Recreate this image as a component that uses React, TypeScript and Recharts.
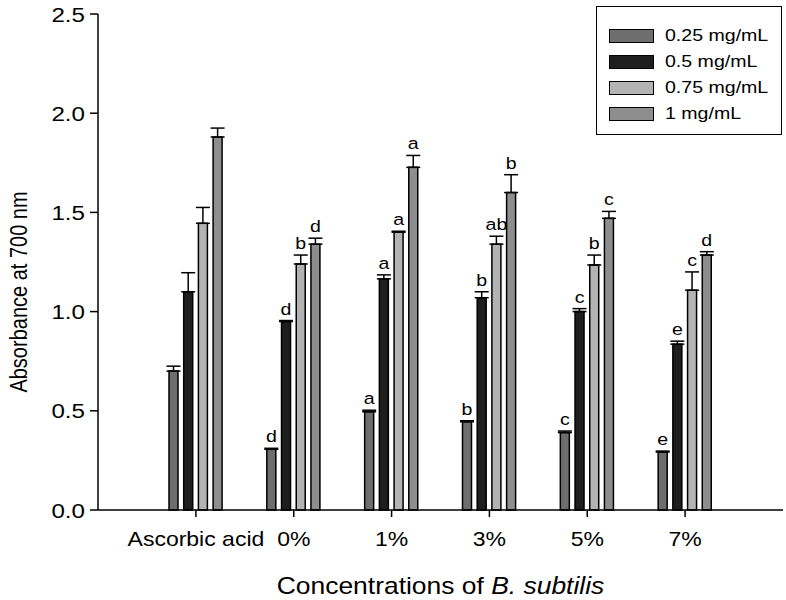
import React from "react";
import {
  BarChart,
  Bar,
  XAxis,
  YAxis,
  Legend,
  ErrorBar,
  LabelList,
} from "recharts";

const categories = ["Ascorbic acid", "0%", "1%", "3%", "5%", "7%"];

const s025 = [0.7, 0.306, 0.495, 0.445, 0.39, 0.292];
const s05 = [1.1, 0.95, 1.165, 1.07, 1.0, 0.836];
const s075 = [1.445, 1.24, 1.4, 1.34, 1.235, 1.108];
const s1 = [1.88, 1.34, 1.727, 1.6, 1.47, 1.285];

const e025 = [0.025, 0.005, 0.008, 0.005, 0.008, 0.005];
const e05 = [0.096, 0.005, 0.02, 0.03, 0.015, 0.015];
const e075 = [0.08, 0.045, 0.005, 0.04, 0.05, 0.092];
const e1 = [0.045, 0.03, 0.06, 0.09, 0.035, 0.017];

const l025 = ["", "d", "a", "b", "c", "e"];
const l05 = ["", "d", "a", "b", "c", "e"];
const l075 = ["", "b", "a", "ab", "b", "c"];
const l1 = ["", "d", "a", "b", "c", "d"];

const yTicks = [0, 0.5, 1.0, 1.5, 2.0, 2.5];

const seriesNames = ["0.25 mg/mL", "0.5 mg/mL", "0.75 mg/mL", "1 mg/mL"];
const seriesColors = ["#6e6e6e", "#1e1e1e", "#b3b3b3", "#8e8e8e"];

const FONT = "'Liberation Sans', Arial, Helvetica, sans-serif";
// the source figure's lettering is a bit wider than plain Arial
const SX = 1.15;

const data = categories.map((name, i) => ({
  name,
  v0: s025[i],
  v1: s05[i],
  v2: s075[i],
  v3: s1[i],
  err0: [0, e025[i]],
  err1: [0, e05[i]],
  err2: [0, e075[i]],
  err3: [0, e1[i]],
  lab0: l025[i],
  lab1: l05[i],
  lab2: l075[i],
  lab3: l1[i],
}));

const values = [s025, s05, s075, s1];
const errors = [e025, e05, e075, e1];

const WideText = ({ x, y, size, anchor, children }: any) => (
  <text
    transform={`translate(${x},${y}) scale(${SX},1)`}
    x={0}
    y={0}
    textAnchor={anchor}
    fontSize={size}
    fontFamily={FONT}
    fill="#000"
  >
    {children}
  </text>
);

// letter above the error bar cap
const letterRenderer = (k: number) => (props: any) => {
  const { x, y, width, height, value, index } = props;
  if (!value) return null;
  const v = values[k][index];
  const pxPerUnit = Number(height) / v;
  const capY = Number(y) - errors[k][index] * pxPerUnit;
  return (
    <WideText x={Number(x) + Number(width) / 2} y={capY - 6} size={17} anchor="middle">
      {value}
    </WideText>
  );
};

const XTick = (props: any) => {
  const { x, y, payload } = props;
  return (
    <WideText x={x} y={y + 29} size={20} anchor="middle">
      {payload.value}
    </WideText>
  );
};

const YTick = (props: any) => {
  const { x, y, payload } = props;
  return (
    <WideText x={x} y={y + 7.5} size={21} anchor="end">
      {Number(payload.value).toFixed(1)}
    </WideText>
  );
};

const LegendBox = () => (
  <div
    style={{
      width: 186,
      height: 129,
      border: "1.5px solid #000",
      background: "#fff",
      fontFamily: FONT,
      fontSize: 17,
      boxSizing: "border-box",
      paddingTop: 16,
    }}
  >
    {seriesNames.map((n, i) => (
      <div key={n} style={{ display: "flex", alignItems: "center", height: 26 }}>
        <span
          style={{
            display: "inline-block",
            width: 43,
            height: 12,
            marginLeft: 12,
            marginRight: 11,
            background: seriesColors[i],
            border: "1.5px solid #000",
          }}
        />
        <span
          style={{
            display: "inline-block",
            transform: `scaleX(${SX})`,
            transformOrigin: "left center",
          }}
        >
          {n}
        </span>
      </div>
    ))}
  </div>
);

const XTitle = (props: any) => {
  const { viewBox } = props;
  const cx = viewBox.x + viewBox.width / 2;
  return (
    <WideText x={cx} y={viewBox.y + 84} size={23} anchor="middle">
      Concentrations of <tspan fontStyle="italic">B. subtilis</tspan>
    </WideText>
  );
};

const YTitle = (props: any) => {
  const { viewBox } = props;
  const cy = viewBox.y + viewBox.height / 2 + 30;
  return (
    <text
      transform={`translate(27,${cy}) rotate(-90) scale(1,${SX})`}
      x={0}
      y={0}
      textAnchor="middle"
      fontSize={20}
      fontFamily={FONT}
      fill="#000"
    >
      Absorbance at 700 nm
    </text>
  );
};

const App = () => {
  return (
    <div
      style={{
        position: "absolute",
        left: 0,
        top: 0,
        width: 786,
        height: 600,
        background: "#fff",
      }}
    >
      <BarChart
        width={786}
        height={600}
        data={data}
        margin={{ top: 14, right: 3, left: 0, bottom: 0 }}
        barSize={9}
        barGap={5.7}
      >
        <XAxis
          dataKey="name"
          height={90}
          padding={{ left: 49, right: 49 }}
          axisLine={{ stroke: "#000", strokeWidth: 1.5 }}
          tickLine={{ stroke: "#000", strokeWidth: 1.5 }}
          tickSize={7}
          tickMargin={0}
          tick={<XTick />}
          interval={0}
          label={<XTitle />}
        />
        <YAxis
          width={98}
          domain={[0, 2.5]}
          ticks={yTicks}
          interval={0}
          axisLine={{ stroke: "#000", strokeWidth: 1.5 }}
          tickLine={{ stroke: "#000", strokeWidth: 1.5 }}
          tickSize={8}
          tickMargin={5}
          tick={<YTick />}
          label={<YTitle />}
        />
        <Legend
          layout="vertical"
          align="center"
          verticalAlign="middle"
          content={<LegendBox />}
          wrapperStyle={{ top: 6, left: 596, width: 186 }}
        />
        {[0, 1, 2, 3].map((k) => (
          <Bar
            key={k}
            dataKey={`v${k}`}
            name={seriesNames[k]}
            fill={seriesColors[k]}
            stroke="#000"
            strokeWidth={1.5}
            isAnimationActive={false}
          >
            <ErrorBar
              dataKey={`err${k}`}
              direction="y"
              width={7}
              stroke="#000"
              strokeWidth={1.5}
              isAnimationActive={false}
            />
            <LabelList dataKey={`lab${k}`} content={letterRenderer(k)} />
          </Bar>
        ))}
      </BarChart>
    </div>
  );
};

export default App;
